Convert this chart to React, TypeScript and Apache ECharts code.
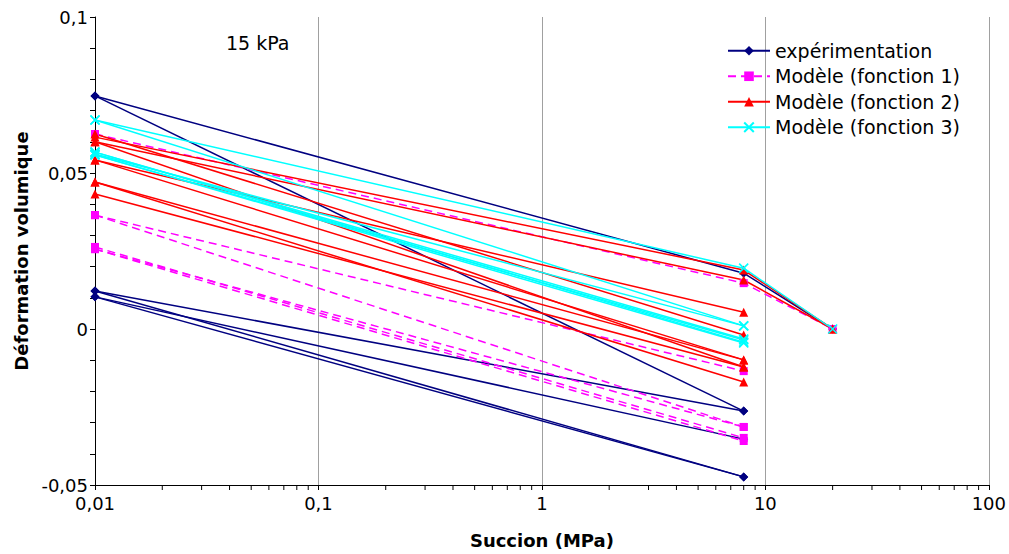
import React, { useEffect, useRef } from "react";
import * as echarts from "echarts";

// Suction values (MPa) at which every curve is sampled
const SUCTIONS = [0.01, 8, 20];

// Volumetric deformation curves (y values at SUCTIONS)
const experimentation: number[][] = [
  [0.0747, 0.0179, 0],
  [0.0747, -0.0263],
  [0.0122, -0.0263],
  [0.0122, -0.0474],
  [0.0103, -0.0474],
  [0.0103, -0.0353],
];
const modele1: number[][] = [
  [0.0625, 0.0147, 0],
  [0.0365, -0.0135],
  [0.0365, -0.0314],
  [0.0256, -0.0314],
  [0.0263, -0.0349],
  [0.0256, -0.0359],
];
const modele2: number[][] = [
  [0.0615, 0.0189, 0],
  [0.06, 0.0157, 0],
  [0.0625, -0.0019],
  [0.06, -0.0122],
  [0.0542, 0.0054],
  [0.0542, -0.0099],
  [0.0471, -0.0099],
  [0.0433, -0.0122],
  [0.0471, -0.017],
];
const modele3: number[][] = [
  [0.067, 0.0195, 0],
  [0.067, 0.001],
  [0.0561, 0.001],
  [0.0567, -0.0032],
  [0.0567, -0.0042],
  [0.0558, -0.0035],
  [0.0558, -0.0045],
];

const LEGEND_NAMES = [
  "expérimentation",
  "Modèle (fonction 1)",
  "Modèle (fonction 2)",
  "Modèle (fonction 3)",
];

// minor tick positions on the log axis
const MINOR_X_TICKS = [
  0.02, 0.03, 0.04, 0.05, 0.06, 0.07, 0.08, 0.09,
  0.2, 0.3, 0.4, 0.5, 0.6, 0.7, 0.8, 0.9,
  2, 3, 4, 5, 6, 7, 8, 9,
  20, 30, 40, 50, 60, 70, 80, 90,
];

const Y_MIN = -0.05;
const Y_MAX = 0.1;
const FONT = "DejaVu Sans";

const X_SYMBOL = "path://M0,0L10,10M10,0L0,10";

function fmt(v: number): string {
  return String(Number(v.toPrecision(6))).replace(".", ",");
}

export default function App() {
  const ref = useRef<HTMLDivElement>(null);

  useEffect(() => {
    document.body.style.margin = "0";
    const chart = echarts.init(ref.current!, null, { renderer: "svg" });

    const styles = [
      {
        curves: experimentation,
        name: LEGEND_NAMES[0],
        color: "#000080",
        symbol: "diamond",
        symbolSize: 9,
        dashed: false,
      },
      {
        curves: modele1,
        name: LEGEND_NAMES[1],
        color: "#FF00FF",
        symbol: "rect",
        symbolSize: 8,
        dashed: true,
      },
      {
        curves: modele2,
        name: LEGEND_NAMES[2],
        color: "#FF0000",
        symbol: "triangle",
        symbolSize: 9,
        dashed: false,
      },
      {
        curves: modele3,
        name: LEGEND_NAMES[3],
        color: "#00FFFF",
        symbol: X_SYMBOL,
        symbolSize: 9,
        dashed: false,
      },
    ];

    const series: any[] = [];
    styles.forEach((s) => {
      s.curves.forEach((c) => {
        series.push({
          type: "line",
          name: s.name,
          data: c.map((y, i) => [SUCTIONS[i], y]),
          symbol: s.symbol,
          symbolSize: s.symbolSize,
          showAllSymbol: true,
          lineStyle: {
            color: s.color,
            width: 1.5,
            type: s.dashed ? [8, 5] : "solid",
          },
          itemStyle:
            s.symbol === X_SYMBOL
              ? { color: s.color, borderColor: s.color, borderWidth: 1.6 }
              : { color: s.color, borderWidth: 0 },
          emphasis: { disabled: true },
        });
      });
    });

    series.push({
      type: "custom",
      name: "minorTicks",
      silent: true,
      clip: false,
      data: MINOR_X_TICKS.map((x) => [x, Y_MIN]),
      renderItem: (_params: any, api: any) => {
        const p = api.coord([api.value(0), Y_MIN]);
        return {
          type: "line",
          shape: { x1: p[0], y1: p[1], x2: p[0], y2: p[1] + 5 },
          style: { stroke: "#000", lineWidth: 1 },
        };
      },
    });

    chart.setOption({
      animation: false,
      textStyle: { fontFamily: FONT, color: "#000" },
      grid: { left: 95, right: 16, top: 17, bottom: 69, containLabel: false },
      legend: {
        data: LEGEND_NAMES,
        orient: "vertical",
        left: 727,
        top: 41,
        padding: 0,
        itemWidth: 42,
        itemHeight: 12,
        itemGap: 6,
        textStyle: { fontSize: 19, fontFamily: FONT, color: "#000", lineHeight: 19.5 },
        selectedMode: false,
      },
      xAxis: {
        type: "log",
        logBase: 10,
        min: 0.01,
        max: 100,
        name: "Succion (MPa)",
        nameLocation: "middle",
        nameGap: 46,
        nameTextStyle: { fontSize: 18, fontWeight: "bold", fontFamily: FONT, color: "#000" },
        axisLine: { show: true, onZero: false, lineStyle: { color: "#000", width: 1 } },
        axisTick: { show: true, inside: false, length: 5, lineStyle: { color: "#000" } },
        axisLabel: {
          fontSize: 18,
          fontFamily: FONT,
          color: "#000",
          margin: 9,
          formatter: (v: number) => fmt(v),
        },
        splitLine: { show: true, lineStyle: { color: "#a0a0a0", width: 1 } },
      },
      yAxis: {
        type: "value",
        min: Y_MIN,
        max: Y_MAX,
        interval: 0.05,
        name: "Déformation volumique",
        nameLocation: "middle",
        nameRotate: 90,
        nameGap: 64,
        nameTextStyle: { fontSize: 18, fontWeight: "bold", fontFamily: FONT, color: "#000" },
        axisLine: { show: true, onZero: false, lineStyle: { color: "#000", width: 1 } },
        axisTick: { show: true, inside: false, length: 5, lineStyle: { color: "#000" } },
        minorTick: { show: true, splitNumber: 5, length: 5, lineStyle: { color: "#000" } },
        axisLabel: {
          fontSize: 18,
          fontFamily: FONT,
          color: "#000",
          margin: 7,
          formatter: (v: number) => fmt(v),
        },
        splitLine: { show: false },
      },
      graphic: [
        {
          type: "text",
          left: 226,
          top: 33,
          style: { text: "15 kPa", font: `19px '${FONT}'`, fill: "#000" },
        },
      ],
      series,
    });

    return () => chart.dispose();
  }, []);

  return <div ref={ref} style={{ width: 1009, height: 554 }} />;
}
